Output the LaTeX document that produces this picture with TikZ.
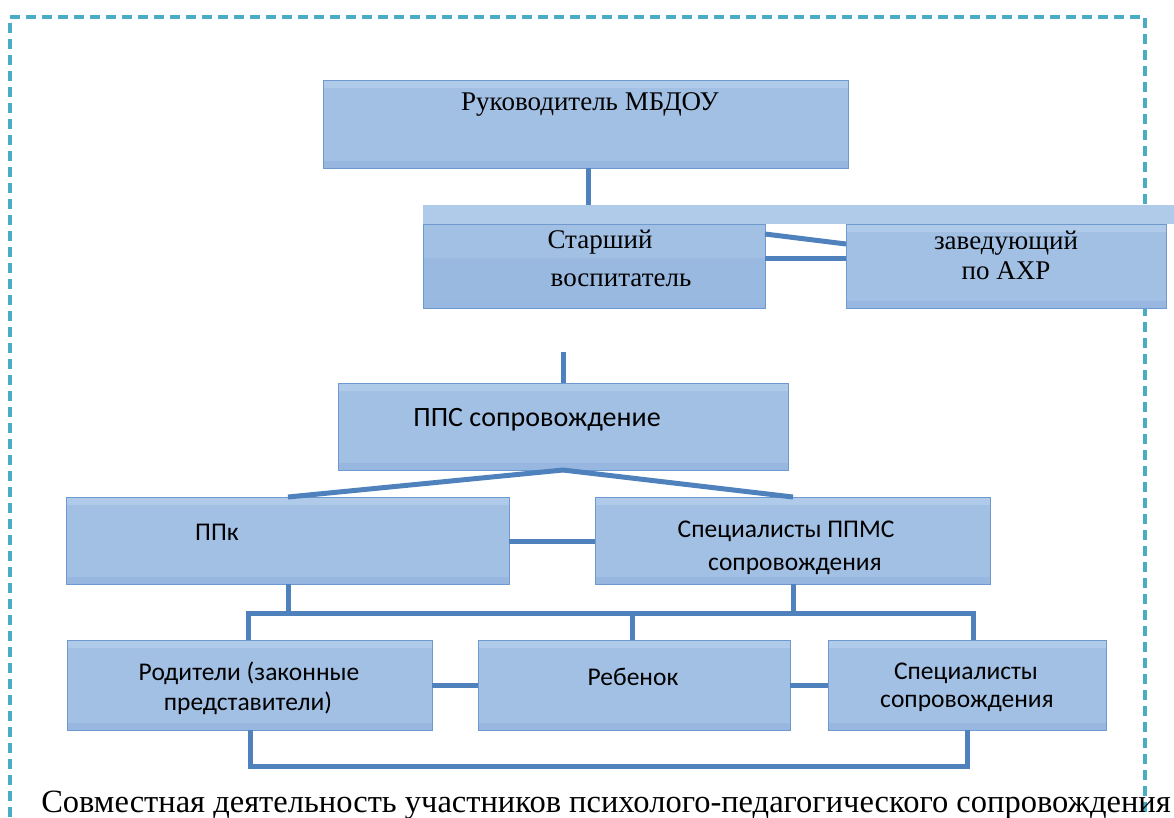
\documentclass[tikz,border=0pt]{standalone}
\usepackage{fontspec}
\setmainfont{Liberation Serif}
\newfontfamily\calib{Carlito}
\definecolor{boxfill}{HTML}{A2C0E4}
\definecolor{bandtop}{HTML}{B0CAE9}
\definecolor{bandbot}{HTML}{97B7E0}
\definecolor{boxline}{HTML}{6E9AD0}
\definecolor{conncol}{HTML}{4F81BD}
\definecolor{framecol}{HTML}{4BACC6}
\definecolor{lowerfill}{HTML}{99B9E1}
\begin{document}
\begin{tikzpicture}[x=1pt,y=-1pt,
  box/.style={draw=boxline, line width=1pt, fill=boxfill, inner sep=0pt, outer sep=0pt,
    path picture={\fill[bandtop] (path picture bounding box.north west) rectangle ([yshift=-8pt]path picture bounding box.north east);
      \fill[bandbot] ([yshift=7pt]path picture bounding box.south west) rectangle (path picture bounding box.south east);}},
  splitbox/.style={draw=boxline, line width=1pt, fill=boxfill, inner sep=0pt, outer sep=0pt,
    path picture={\fill[lowerfill] ([yshift=50pt]path picture bounding box.south west) rectangle (path picture bounding box.south east);
      \fill[bandbot] ([yshift=5pt]path picture bounding box.south west) rectangle (path picture bounding box.south east);}},
  bandbox/.style={fill=bandtop, inner sep=0pt, outer sep=0pt},
  conn/.style={draw=conncol, line width=5pt},
  tnr/.style={font=\fontsize{27}{30}\selectfont, inner sep=0pt, text=black},
  cal/.style={font=\calib\fontsize{25.5}{30}\selectfont, inner sep=0pt, text=black},
  calbig/.style={font=\calib\fontsize{28}{32}\selectfont, inner sep=0pt, text=black},
  frame/.style={draw=framecol, line width=3.5pt, dash pattern=on 10pt off 6pt}
]
\useasboundingbox (0,0) rectangle (1174,817);

% dashed frame
\coordinate (fbl) at (10,817);
\coordinate (ftl) at (10,17);
\coordinate (ftr) at (1145,17);
\coordinate (fbr) at (1145,817);
\draw[frame] (fbl) -- (ftl) -- (ftr) -- (fbr);

% boxes
\node[box, minimum width=525pt, minimum height=88pt] (ruk) at (585.5,124) {};
\node[bandbox, minimum width=751pt, minimum height=19pt] (band) at (798.5,214.5) {};
\node[splitbox, minimum width=342pt, minimum height=84pt] (star) at (594,266) {};
\node[box, minimum width=320pt, minimum height=84pt] (zav) at (1006,266) {};
\node[box, minimum width=450pt, minimum height=87pt] (pps) at (563,426.5) {};
\node[box, minimum width=443pt, minimum height=87pt] (ppk) at (287.5,540.5) {};
\node[box, minimum width=395pt, minimum height=87pt] (spec) at (792.5,540.5) {};
\node[box, minimum width=365pt, minimum height=90pt] (rod) at (249.5,685) {};
\node[box, minimum width=312pt, minimum height=90pt] (reb) at (634,685) {};
\node[box, minimum width=278pt, minimum height=90pt] (ssop) at (967,685) {};

% texts
\node[tnr] (truk) at (590,104) {Руководитель МБДОУ};
\node[tnr] (tstar1) at (600,242) {Старший};
\node[tnr] (tstar2) at (621,280) {воспитатель};
\node[tnr] (tzav1) at (1006,243) {заведующий};
\node[tnr] (tzav2) at (1006,271) {по АХР};
\node[calbig] (tpps) at (537,420) {ППС сопровождение};
\node[cal] (tppk) at (217,532) {ППк};
\node[cal] (tspec1) at (786,531) {Специалисты ППМС};
\node[cal] (tspec2) at (795,566) {сопровождения};
\node[cal] (trod1) at (249,673) {Родители (законные};
\node[cal] (trod2) at (248,703) {представители)};
\node[cal] (treb) at (633,677) {Ребенок};
\node[cal] (tssop1) at (966,673) {Специалисты};
\node[cal] (tssop2) at (967,703) {сопровождения};

% connectors
\draw[conn] (588,168 -| ruk.south) ++(2.5,0) coordinate (rukb) -- (rukb |- band.north);
\draw[conn] ([yshift=-10pt]star.north east) -- ([yshift=-20pt]zav.north west);
\draw[conn] (star.east |- 0,258) -- (zav.west |- 0,258);
\coordinate (stub) at (563,352);
\draw[conn] (stub) -- (stub |- pps.north);
\coordinate (ppsb) at (563,470);
\draw[conn] (ppsb) -- (288,497 |- ppk.north);
\draw[conn] (ppsb) -- (793,497 |- spec.north);
\draw[conn] (ppk.east |- 0,541) -- (spec.west |- 0,541);
\coordinate (hl) at (248,613);
\coordinate (hr) at (973,613);
\draw[conn] (288,613 |- ppk.south) -- (288,613);
\draw[conn] (793,613 |- spec.south) -- (793,613);
\draw[conn] (hl |- rod.north) -- (hl) -- (hr) -- (hr |- ssop.north);
\draw[conn] (632,613) -- (632,613 |- reb.north);
\draw[conn] (rod.east |- 0,685) -- (reb.west |- 0,685);
\draw[conn] (reb.east |- 0,685) -- (ssop.west |- 0,685);
\coordinate (ll) at (250,766);
\coordinate (lr) at (967,766);
\draw[conn] (ll |- rod.south) -- (ll) -- (lr) -- (lr |- ssop.south);

% caption
\node[font=\fontsize{32.5}{36}\selectfont, inner sep=0pt, anchor=base] (cap) at (606,812) {Совместная деятельность участников психолого-педагогического сопровождения};
\end{tikzpicture}
\end{document}
